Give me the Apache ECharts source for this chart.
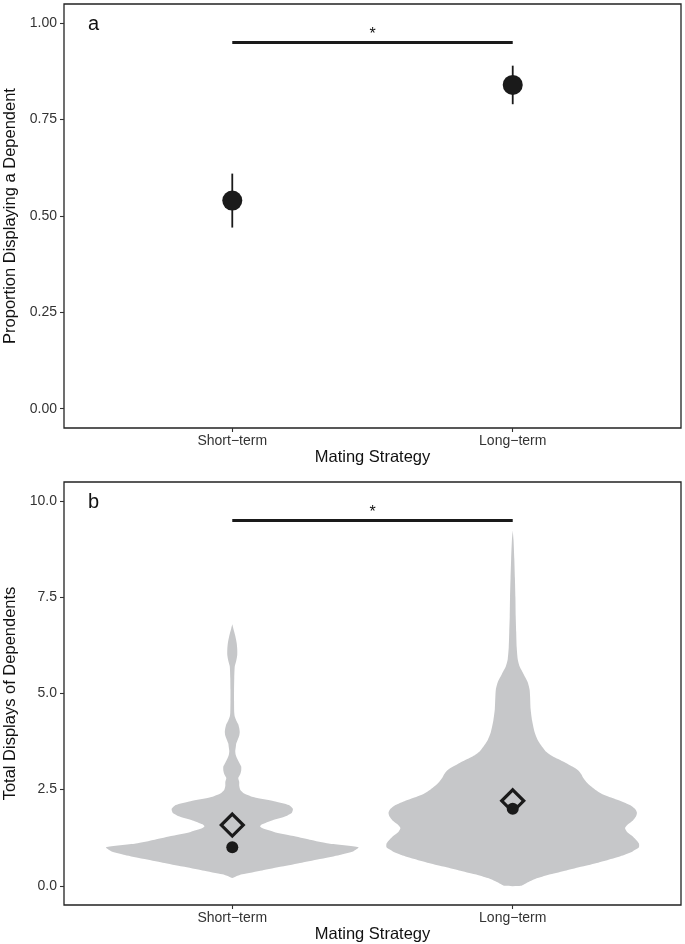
<!DOCTYPE html>
<html><head><meta charset="utf-8">
<script src="https://cdn.jsdelivr.net/npm/echarts@6/dist/echarts.min.js"></script>
<style>html,body{margin:0;padding:0;background:#fff}#c{width:685px;height:944px}</style>
</head><body><div id="c"></div>
<script>
// ---------- data ----------
const categories = ['Short\u2212term', 'Long\u2212term'];
const xAxisTitle = 'Mating Strategy';

// panel a
const panelATitle = 'Proportion Displaying a Dependent';
const proportion = [0.54, 0.84];
const propLower = [0.47, 0.79];
const propUpper = [0.61, 0.89];
const propTicks = [0, 0.25, 0.5, 0.75, 1.0];
const propSigY = 0.95;

// panel b
const panelBTitle = 'Total Displays of Dependents';
const displayTicks = [0, 2.5, 5, 7.5, 10];
const shortY = [0.20,0.25,0.30,0.40,0.50,0.60,0.70,0.80,0.90,1.00,1.10,1.20,1.30,1.40,1.50,1.55,1.60,1.70,1.80,1.90,2.00,2.10,2.20,2.30,2.40,2.50,2.60,2.70,2.80,2.90,3.00,3.10,3.20,3.30,3.40,3.50,3.60,3.70,3.80,3.90,4.00,4.10,4.20,4.30,4.40,4.50,4.80,5.10,5.40,5.70,5.85,6.00,6.15,6.30,6.50,6.70,6.80];
const shortDensity = [0,4,10,30,50,70,90,108,122,127,97,78,60,42,30,28,30,40,53,60,61,57,42,22,12,8,7,7,6,8,9,9,7,5,3.5,3,3.5,4,5.5,7,7.5,7,6,4,2.5,2,1.8,1.8,2,2.5,4,5,5,4.5,3,1,0];
const longY = [0.00,0.10,0.20,0.30,0.40,0.50,0.60,0.70,0.80,0.90,1.00,1.10,1.20,1.30,1.40,1.50,1.60,1.70,1.80,1.90,2.00,2.10,2.20,2.30,2.40,2.50,2.60,2.70,2.80,2.90,3.00,3.10,3.20,3.30,3.40,3.50,3.60,3.80,4.00,4.30,4.60,4.90,5.10,5.30,5.50,5.70,5.90,6.20,6.60,7.00,7.50,8.00,8.50,9.00,9.24];
const longDensity = [8,16,25,38,54,70,86,100,112,121,127,127,124,120,115,113,116,121,124,125,123,118,109,98,89,83,78,74,71,69,66,60,53,45,38,33,30,25,22,19.5,18,17.5,17,15,11,7,5,4,3.5,3,2.7,2.2,1.6,0.8,0];
const displayMean = [1.58, 2.21];
const displayMedian = [1.0, 2.0];
const displaySigY = 9.5;
const sigLabel = '*';

// ---------- chart ----------
const FONT = '"Liberation Sans", Arial, Helvetica, sans-serif';
const violinY = [shortY, longY];
const violinD = [shortDensity, longDensity];
const maxD = Math.max(...shortDensity, ...longDensity);
const halfMax = 0.45;

function xAxisCfg(gi) {
  return {
    type: 'value', gridIndex: gi, min: 0.4, max: 2.6,
    splitLine: {show: false}, axisLine: {show: false, onZero: false},
    axisTick: {show: true, length: 4, customValues: [1, 2], lineStyle: {color: '#333', width: 1.1}},
    axisLabel: {customValues: [1, 2], margin: 6, color: '#333', fontSize: 14, fontFamily: FONT,
      formatter: v => categories[Math.round(v) - 1]},
    name: xAxisTitle, nameLocation: 'middle', nameGap: 21,
    nameTextStyle: {color: '#111', fontSize: 16.5, fontFamily: FONT}
  };
}
function yAxisCfg(gi, min, max, ticks, dec, title) {
  return {
    type: 'value', gridIndex: gi, min: min, max: max,
    splitLine: {show: false}, axisLine: {show: false, onZero: false},
    axisTick: {show: true, length: 4, customValues: ticks, lineStyle: {color: '#333', width: 1.1}},
    axisLabel: {customValues: ticks, margin: 7, color: '#333', fontSize: 14, fontFamily: FONT,
      formatter: v => v.toFixed(dec)},
    name: title, nameLocation: 'middle', nameGap: 44,
    nameTextStyle: {color: '#111', fontSize: 16.5, fontFamily: FONT}
  };
}

function starSeries(xi, yi, y) {
  return {
    type: 'custom', xAxisIndex: xi, yAxisIndex: yi, silent: true,
    data: [[1.5, y]],
    renderItem: (params, api) => {
      const p = api.coord([api.value(0), api.value(1)]);
      return {type: 'text', style: {text: sigLabel, x: p[0], y: p[1] - 8, align: 'center', verticalAlign: 'middle',
        fontSize: 16, fontFamily: FONT, fill: '#111'}};
    }
  };
}
function sigLine(xi, yi, y) {
  return {
    type: 'line', xAxisIndex: xi, yAxisIndex: yi, silent: true, symbol: 'none',
    data: [[1, y], [2, y]], lineStyle: {color: '#1a1a1a', width: 3}
  };
}

const chart = echarts.init(document.getElementById('c'), null, {renderer: 'canvas'});
chart.setOption({
  animation: false,
  backgroundColor: '#fff',
  title: [
    {text: 'a', left: 83, top: 9, textStyle: {fontSize: 20, fontWeight: 'normal', color: '#111', fontFamily: FONT}},
    {text: 'b', left: 83, top: 487, textStyle: {fontSize: 20, fontWeight: 'normal', color: '#111', fontFamily: FONT}}
  ],
  grid: [
    {left: 64, top: 4, width: 617, height: 424, show: true, borderColor: '#222', borderWidth: 1.3, backgroundColor: 'transparent', outerBoundsMode: 'none', containLabel: false},
    {left: 64, top: 482, width: 617, height: 423, show: true, borderColor: '#222', borderWidth: 1.3, backgroundColor: 'transparent', outerBoundsMode: 'none', containLabel: false}
  ],
  xAxis: [xAxisCfg(0), xAxisCfg(1)],
  yAxis: [
    yAxisCfg(0, -0.05, 1.05, propTicks, 2, panelATitle),
    yAxisCfg(1, -0.5, 10.5, displayTicks, 1, panelBTitle)
  ],
  series: [
    // panel a: error bars
    {
      type: 'custom', xAxisIndex: 0, yAxisIndex: 0, silent: true,
      data: proportion.map((v, i) => [i + 1, propLower[i], propUpper[i]]),
      renderItem: (params, api) => {
        const a = api.coord([api.value(0), api.value(1)]);
        const b = api.coord([api.value(0), api.value(2)]);
        return {type: 'line', shape: {x1: a[0], y1: a[1], x2: b[0], y2: b[1]},
          style: {stroke: '#1a1a1a', lineWidth: 1.8}};
      }
    },
    {
      type: 'scatter', xAxisIndex: 0, yAxisIndex: 0, silent: true,
      symbol: 'circle', symbolSize: 20,
      data: proportion.map((v, i) => [i + 1, v]),
      itemStyle: {color: '#1a1a1a', opacity: 1}
    },
    sigLine(0, 0, propSigY),
    starSeries(0, 0, propSigY),
    // panel b: violins
    {
      type: 'custom', xAxisIndex: 1, yAxisIndex: 1, silent: true,
      data: [[1, displayMedian[0]], [2, displayMedian[1]]],
      renderItem: (params, api) => {
        const idx = params.dataIndex;
        const ys = violinY[idx], ds = violinD[idx];
        const cx = idx + 1;
        const sc = halfMax / maxD;
        const pts = [];
        for (let i = 0; i < ys.length; i++) pts.push(api.coord([cx + ds[i] * sc, ys[i]]));
        for (let i = ys.length - 1; i >= 0; i--) pts.push(api.coord([cx - ds[i] * sc, ys[i]]));
        return {type: 'polygon', shape: {points: pts, smooth: 0.2}, style: {fill: '#c6c7c9', stroke: null}};
      }
    },
    {
      type: 'scatter', xAxisIndex: 1, yAxisIndex: 1, silent: true,
      symbol: 'circle', symbolSize: 12,
      data: displayMedian.map((v, i) => [i + 1, v]),
      itemStyle: {color: '#1a1a1a', opacity: 1}
    },
    {
      type: 'scatter', xAxisIndex: 1, yAxisIndex: 1, silent: true,
      symbol: 'diamond', symbolSize: [22, 22],
      data: displayMean.map((v, i) => [i + 1, v]),
      itemStyle: {color: 'rgba(0,0,0,0)', borderColor: '#1a1a1a', borderWidth: 3.2, opacity: 1}
    },
    sigLine(1, 1, displaySigY),
    starSeries(1, 1, displaySigY)
  ]
});
</script>
</body></html>
